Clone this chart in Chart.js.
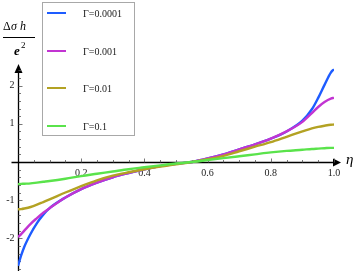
<!DOCTYPE html>
<html>
<head>
<meta charset="utf-8">
<script src="https://cdn.jsdelivr.net/npm/chart.js@4.4.1/dist/chart.umd.min.js"></script>
<style>
  html, body { margin: 0; padding: 0; background: #fff; }
  #wrap { width: 357px; height: 271px; position: relative; }
</style>
</head>
<body>
<div id="wrap"><canvas id="c"></canvas></div>
<script>
// eta grid shared by all curves
var eta = [0, 0.01, 0.02, 0.04, 0.06, 0.08, 0.1, 0.15, 0.2, 0.25, 0.3, 0.35, 0.4, 0.45,
           0.5, 0.55, 0.6, 0.65, 0.7, 0.75, 0.8, 0.85, 0.9, 0.93, 0.95, 0.97, 0.99, 1.0];

var g0001 = [-2.72, -2.45, -2.22, -1.88, -1.60, -1.38, -1.21, -0.93, -0.71, -0.54, -0.40, -0.29, -0.19, -0.11,
             -0.05, 0.0, 0.09, 0.20, 0.33, 0.46, 0.61, 0.80, 1.08, 1.38, 1.68, 2.02, 2.34, 2.43];
var g001  = [-1.97, -1.89, -1.80, -1.62, -1.47, -1.33, -1.21, -0.93, -0.71, -0.54, -0.40, -0.29, -0.19, -0.11,
             -0.05, 0.0, 0.09, 0.20, 0.33, 0.46, 0.61, 0.80, 1.05, 1.28, 1.44, 1.57, 1.66, 1.68];
var g01   = [-1.24, -1.235, -1.22, -1.18, -1.12, -1.05, -0.98, -0.80, -0.63, -0.48, -0.36, -0.27, -0.19, -0.12,
             -0.06, 0.0, 0.07, 0.16, 0.28, 0.40, 0.52, 0.66, 0.80, 0.88, 0.92, 0.95, 0.975, 0.98];
var g1    = [-0.58, -0.575, -0.57, -0.56, -0.54, -0.52, -0.50, -0.44, -0.37, -0.31, -0.25, -0.19, -0.14, -0.09,
             -0.04, 0.0, 0.05, 0.10, 0.15, 0.20, 0.25, 0.29, 0.32, 0.34, 0.35, 0.36, 0.37, 0.37];

var seriesLabels = ['\u0393=0.0001', '\u0393=0.001', '\u0393=0.01', '\u0393=0.1'];
var seriesColors = ['#1e5cff', '#c234d2', '#b3a223', '#5ae34b'];

var xTicks = [0.2, 0.4, 0.6, 0.8, 1.0];
var xTickLabels = ['0.2', '0.4', '0.6', '0.8', '1.0'];
var yTicks = [-2, -1, 1, 2];
var yTickLabels = ['-2', '-1', '1', '2'];

var SERIF = '"Liberation Serif", "DejaVu Serif", serif';

function pts(ys) {
  return eta.map(function(x, i) { return { x: x, y: ys[i] }; });
}

var allSeries = [g0001, g001, g01, g1];
var datasets = allSeries.map(function(ys, i) {
  return {
    label: seriesLabels[i],
    data: pts(ys),
    borderColor: seriesColors[i],
    backgroundColor: seriesColors[i],
    borderWidth: 2.4,
    pointRadius: 0,
    cubicInterpolationMode: 'monotone',
    order: 4 - i,
  };
});

function arrow(ctx, x, y, dir) {
  ctx.beginPath();
  if (dir === 'right') {
    ctx.moveTo(x, y); ctx.lineTo(x - 8, y - 4); ctx.lineTo(x - 8, y + 4);
  } else {
    ctx.moveTo(x, y); ctx.lineTo(x - 4, y + 9); ctx.lineTo(x + 4, y + 9);
  }
  ctx.closePath();
  ctx.fill();
}

var axesPlugin = {
  id: 'axes',
  beforeDatasetsDraw: function(chart) {
    var ctx = chart.ctx;
    var xs = chart.scales.x, ys = chart.scales.y;
    var x0 = Math.round(xs.getPixelForValue(0)) + 0.5;
    var y0 = Math.round(ys.getPixelForValue(0)) + 0.5;
    ctx.save();
    ctx.strokeStyle = '#000';
    ctx.fillStyle = '#000';
    ctx.lineWidth = 1.3;
    // x axis
    ctx.beginPath();
    ctx.moveTo(x0 - 7, y0); ctx.lineTo(xs.getPixelForValue(1.0) + 4, y0);
    ctx.stroke();
    arrow(ctx, xs.getPixelForValue(1.0) + 7, y0, 'right');
    // y axis
    ctx.beginPath();
    ctx.moveTo(x0, chart.height); ctx.lineTo(x0, ys.top + 5);
    ctx.stroke();
    arrow(ctx, x0, ys.top - 1, 'up');

    // ticks
    ctx.lineWidth = 0.8;
    ctx.strokeStyle = '#555';
    var i, v, px, len;
    for (i = 1; i <= 20; i++) {
      v = i * 0.05;
      px = Math.round(xs.getPixelForValue(v)) + 0.5;
      len = (i % 4 === 0) ? 4 : 2.5;
      ctx.beginPath(); ctx.moveTo(px, y0); ctx.lineTo(px, y0 - len); ctx.stroke();
    }
    for (i = -14; i <= 12; i++) {
      if (i === 0) continue;
      v = i * 0.2;
      px = Math.round(ys.getPixelForValue(v)) + 0.5;
      len = (i % 5 === 0) ? 4 : 2.5;
      ctx.beginPath(); ctx.moveTo(x0, px); ctx.lineTo(x0 + len, px); ctx.stroke();
    }

    // tick labels
    ctx.fillStyle = '#222';
    ctx.font = '10px ' + SERIF;
    ctx.textAlign = 'center';
    ctx.textBaseline = 'alphabetic';
    xTicks.forEach(function(t, k) {
      ctx.fillText(xTickLabels[k], xs.getPixelForValue(t), y0 + 13);
    });
    ctx.textAlign = 'right';
    ctx.textBaseline = 'middle';
    yTicks.forEach(function(t, k) {
      ctx.fillText(yTickLabels[k], x0 - 4, ys.getPixelForValue(t));
    });

    // axis labels
    ctx.fillStyle = '#000';
    ctx.textBaseline = 'alphabetic';
    ctx.textAlign = 'left';
    ctx.font = 'italic 15px ' + SERIF;
    ctx.fillText('\u03B7', 346, y0 + 1);

    ctx.font = '12px ' + SERIF;
    ctx.fillText('\u0394', 3, 30);
    ctx.font = 'italic 12px ' + SERIF;
    ctx.fillText('\u03C3 h', 11, 30);
    ctx.lineWidth = 1;
    ctx.strokeStyle = '#000';
    ctx.beginPath(); ctx.moveTo(3, 37.5); ctx.lineTo(35, 37.5); ctx.stroke();
    ctx.font = 'italic bold 13px ' + SERIF;
    ctx.fillText('e', 14, 55);
    ctx.font = '9px ' + SERIF;
    ctx.fillText('2', 21, 48);
    ctx.restore();
  },
  afterDraw: function(chart) {
    var ctx = chart.ctx;
    ctx.save();
    ctx.fillStyle = '#fff';
    ctx.fillRect(42, 2, 92, 133);
    ctx.strokeStyle = '#a8a8a8';
    ctx.lineWidth = 1;
    ctx.strokeRect(42.5, 2.5, 92, 133);
    var rows = [13, 51, 88, 126];
    ctx.font = '10px ' + SERIF;
    ctx.textAlign = 'left';
    ctx.textBaseline = 'middle';
    chart.data.datasets.forEach(function(ds, i) {
      ctx.strokeStyle = ds.borderColor;
      ctx.lineWidth = 2;
      ctx.beginPath(); ctx.moveTo(47, rows[i]); ctx.lineTo(66, rows[i]); ctx.stroke();
      ctx.fillStyle = '#222';
      ctx.fillText(ds.label, 83, rows[i] + 1);
    });
    ctx.restore();
  }
};

new Chart(document.getElementById('c'), {
  type: 'line',
  data: { datasets: datasets },
  options: {
    responsive: true,
    maintainAspectRatio: false,
    animation: false,
    layout: { padding: { left: 18, right: 23, top: 65, bottom: 1 } },
    plugins: { legend: { display: false }, tooltip: { enabled: false } },
    scales: {
      x: { type: 'linear', min: 0, max: 1, display: false },
      y: { type: 'linear', min: -2.83, max: 2.54, display: false },
    },
  },
  plugins: [axesPlugin],
});
</script>
</body>
</html>
